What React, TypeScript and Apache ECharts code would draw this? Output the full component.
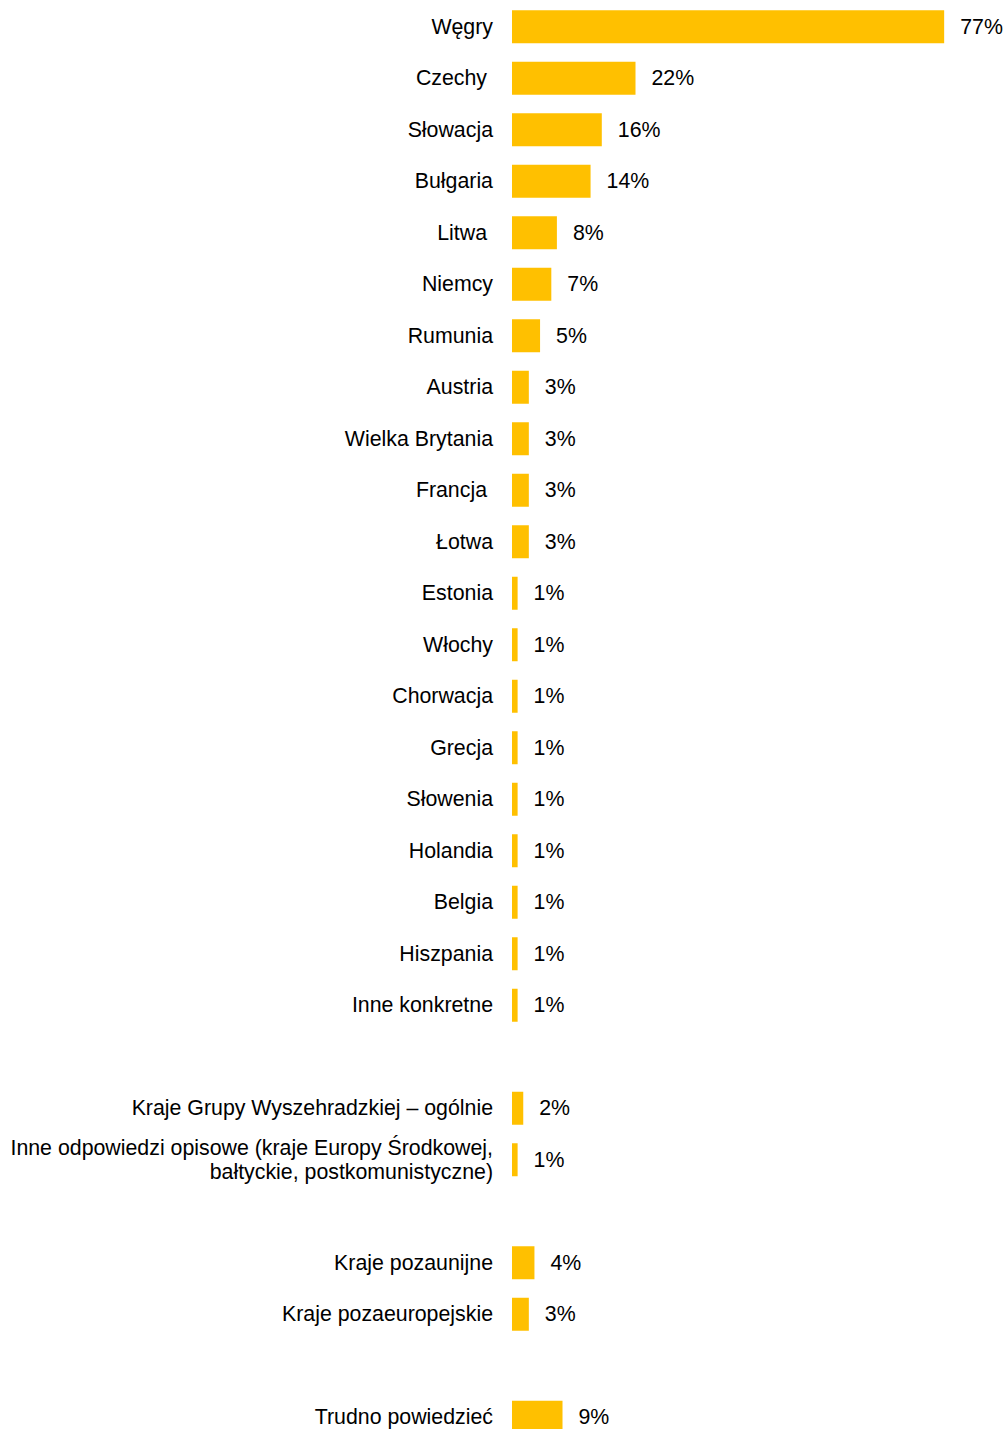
import React, { useEffect, useRef } from "react";
import * as echarts from "echarts";

const categories: string[] = [
  "Węgry",
  "Czechy ",
  "Słowacja",
  "Bułgaria",
  "Litwa ",
  "Niemcy",
  "Rumunia",
  "Austria",
  "Wielka Brytania",
  "Francja ",
  "Łotwa",
  "Estonia",
  "Włochy",
  "Chorwacja",
  "Grecja",
  "Słowenia",
  "Holandia",
  "Belgia",
  "Hiszpania",
  "Inne konkretne",
  "\u2002",
  "Kraje Grupy Wyszehradzkiej – ogólnie",
  "Inne odpowiedzi opisowe (kraje Europy Środkowej,\nbałtyckie, postkomunistyczne)",
  "\u2003",
  "Kraje pozaunijne",
  "Kraje pozaeuropejskie",
  "\u2009",
  "Trudno powiedzieć",
];

const values: (number | null)[] = [
  77, 22, 16, 14, 8, 7, 5, 3, 3, 3, 3, 1, 1, 1, 1, 1, 1, 1, 1, 1,
  null,
  2, 1,
  null,
  4, 3,
  null,
  9,
];

const FONT = '"Liberation Sans", Arial, sans-serif';
const FS = 21.33;

export default function App() {
  const ref = useRef<HTMLDivElement>(null);
  useEffect(() => {
    if (!ref.current) return;
    const chart = echarts.init(ref.current, null, { renderer: "svg" });
    chart.setOption({
      animation: false,
      backgroundColor: "#ffffff",
      grid: { left: 512, right: 46, top: 1, bottom: 0, containLabel: false },
      xAxis: {
        type: "value",
        min: 0,
        max: 80,
        show: false,
      },
      yAxis: {
        type: "category",
        inverse: true,
        data: categories,
        axisLine: { show: false },
        axisTick: { show: false },
        splitLine: { show: false },
        axisLabel: {
          margin: 19,
          fontSize: FS,
          fontFamily: FONT,
          color: "#000000",
          lineHeight: 24,
          align: "right",
          formatter: (name: string) => {
            const t = name.trim();
            if (t.length > 0 && name !== t && name.endsWith(" ")) {
              return "{s|" + t + "}";
            }
            return t;
          },
          rich: {
            s: {
              fontSize: FS,
              fontFamily: FONT,
              color: "#000000",
              padding: [0, 6, 0, 0],
            },
          },
        },
      },
      series: [
        {
          type: "bar",
          data: values,
          barWidth: 33,
          itemStyle: { color: "#FFC000" },
          label: {
            show: true,
            position: "right",
            distance: 16,
            fontSize: FS,
            fontFamily: FONT,
            color: "#000000",
            formatter: (p: any) => (p.value == null ? "" : p.value + "%"),
          },
        },
      ],
    });
    return () => chart.dispose();
  }, []);
  return (
    <div
      style={{
        position: "absolute",
        left: 0,
        top: 0,
        width: 1007,
        height: 1429,
        overflow: "hidden",
      }}
    >
      <div ref={ref} style={{ width: 1007, height: 1443 }} />
    </div>
  );
}
